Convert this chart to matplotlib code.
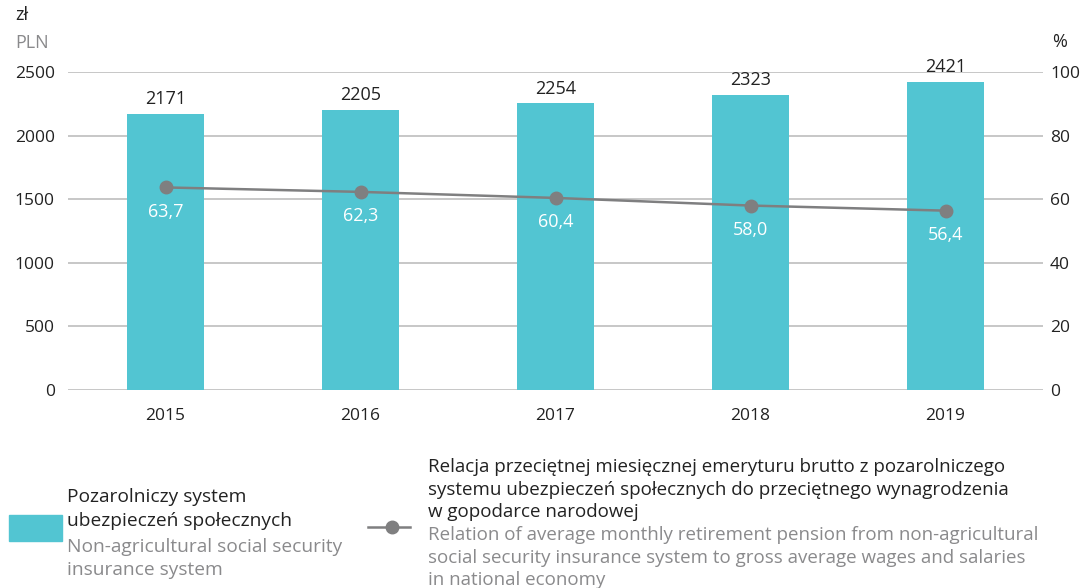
import matplotlib
import matplotlib.pyplot as plt
from matplotlib.patches import Rectangle
from matplotlib.lines import Line2D

matplotlib.use('agg')

years = ['2015', '2016', '2017', '2018', '2019']
pension_pln = [2171, 2205, 2254, 2323, 2421]
relation_pct = [63.7, 62.3, 60.4, 58.0, 56.4]
left_ticks = [0, 500, 1000, 1500, 2000, 2500]
right_ticks = [0, 20, 40, 60, 80, 100]

TEAL = '#52c5d2'
GREY = '#7f7f80'
LABEL_GREY = '#8a8a8c'
TEXT = '#222222'

plt.rcParams['font.family'] = ['Open Sans', 'DejaVu Sans']

fig = plt.figure(figsize=(10.84, 5.88), dpi=100)
ax = fig.add_axes([68 / 1084, 1 - 390 / 588, (1043 - 68) / 1084, (390 - 72) / 588])
ax2 = ax.twinx()

x = list(range(len(years)))
ax.bar(x, pension_pln, width=0.39, color=TEAL, zorder=2)
ax.set_xlim(-0.5, len(years) - 0.5)
ax.set_ylim(0, 2500)
ax.set_yticks(left_ticks)
ax.set_xticks(x)
ax.set_xticklabels(years)
ax.grid(axis='y', color='#bdbdbd', linewidth=1.2, zorder=0)
ax.set_axisbelow(True)
for s in ax.spines.values():
    s.set_visible(False)
ax.tick_params(length=0, labelsize=12.5, colors=TEXT, pad=9.5)
ax.tick_params(axis='x', pad=13)

for xi, v in zip(x, pension_pln):
    ax.text(xi, v + 45, str(v), ha='center', va='bottom', fontsize=13, color=TEXT)

ax2.plot(x, relation_pct, color=GREY, linewidth=1.8, marker='o', markersize=9, zorder=3)
ax2.set_ylim(0, 100)
ax2.set_yticks(right_ticks)
for s in ax2.spines.values():
    s.set_visible(False)
ax2.tick_params(length=0, labelsize=12.5, colors=TEXT, pad=5)
for xi, v in zip(x, relation_pct):
    ax2.text(xi, v - 4.8, f'{v:.1f}'.replace('.', ','), ha='center', va='top',
             fontsize=13, color='white')

fig.text(15 / 1084, 1 - 15 / 588, 'zł', fontsize=13, color=TEXT, va='center', ha='left')
fig.text(15 / 1084, 1 - 43 / 588, 'PLN', fontsize=13, color=LABEL_GREY, va='center', ha='left')
fig.text(1060 / 1084, 1 - 42 / 588, '%', fontsize=13, color=TEXT, va='center', ha='center')

# legend: bars
fig.patches.append(Rectangle((9 / 1084, 1 - 541 / 588), 53 / 1084, 26 / 588,
                             transform=fig.transFigure, color=TEAL))
left_legend = [('Pozarolniczy system', TEXT, 497),
               ('ubezpieczeń społecznych', TEXT, 521),
               ('Non-agricultural social security', LABEL_GREY, 547),
               ('insurance system', LABEL_GREY, 570)]
for t, c, yy in left_legend:
    fig.text(67 / 1084, 1 - yy / 588, t, fontsize=13.8, color=c, va='center')

# legend: line
fig.lines.append(Line2D([368 / 1084, 410 / 1084], [1 - 527 / 588, 1 - 527 / 588],
                        transform=fig.transFigure, color=GREY, linewidth=1.8))
fig.lines.append(Line2D([392 / 1084], [1 - 527 / 588], transform=fig.transFigure,
                        color=GREY, marker='o', markersize=9))
pl_lines = ['Relacja przeciętnej miesięcznej emeryturu brutto z pozarolniczego',
            'systemu ubezpieczeń społecznych do przeciętnego wynagrodzenia',
            'w gopodarce narodowej']
en_lines = ['Relation of average monthly retirement pension from non-agricultural',
            'social security insurance system to gross average wages and salaries',
            'in national economy']
ys = [467, 490, 512, 535, 558, 580]
for i, t in enumerate(pl_lines + en_lines):
    fig.text(428 / 1084, 1 - ys[i] / 588, t, fontsize=13.5,
             color=TEXT if i < 3 else LABEL_GREY, va='center')

fig.savefig('out.png', dpi=100)
